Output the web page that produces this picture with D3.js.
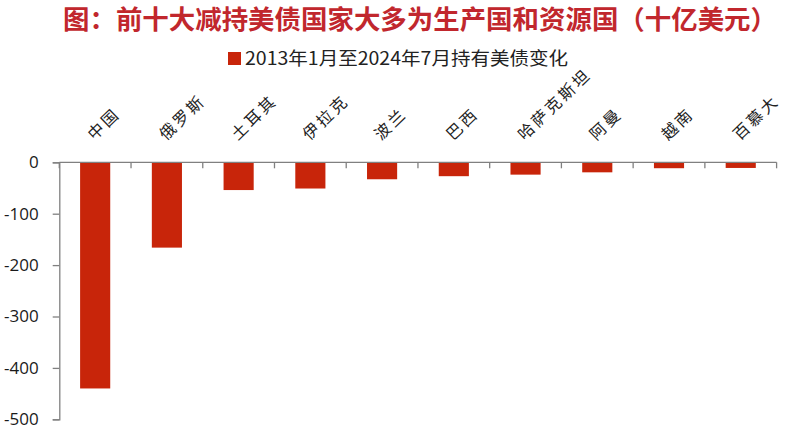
<!DOCTYPE html>
<html>
<head>
<meta charset="utf-8">
<script src="https://cdn.jsdelivr.net/npm/d3@7"></script>
<style>
  body { margin: 0; background: #fff; }
  svg { display: block; }
</style>
</head>
<body>
<div id="chart"></div>
<script>
// data
const countries = ['中国', '俄罗斯', '土耳其', '伊拉克', '波兰', '巴西', '哈萨克斯坦', '阿曼', '越南', '百慕大'];
const changes = [-440, -166, -54, -51, -33, -27, -24, -19.5, -11.5, -11];
const yTicks = [0, -100, -200, -300, -400, -500];

const titleText = '图：前十大减持美债国家大多为生产国和资源国（十亿美元）';
const legendText = '2013年1月至2024年7月持有美债变化';

const width = 800, height = 428;
const barColor = '#C8250A';
const axisColor = '#808080';
const cjk = '"Noto Sans CJK SC", "Noto Sans", sans-serif';

const svg = d3.select('#chart').append('svg')
    .attr('width', width)
    .attr('height', height)
    .attr('viewBox', [0, 0, width, height]);

// title
svg.append('text')
    .attr('x', 63)
    .attr('y', 29)
    .attr('textLength', 714)
    .attr('lengthAdjust', 'spacingAndGlyphs')
    .attr('font-family', cjk)
    .attr('font-weight', 700)
    .attr('font-size', 26)
    .attr('fill', '#C1272D')
    .text(titleText);

// legend
svg.append('rect')
    .attr('x', 228)
    .attr('y', 52)
    .attr('width', 13)
    .attr('height', 13)
    .attr('fill', barColor);

svg.append('text')
    .attr('x', 245)
    .attr('y', 65)
    .attr('textLength', 323)
    .attr('lengthAdjust', 'spacingAndGlyphs')
    .attr('font-family', cjk)
    .attr('font-size', 18)
    .attr('fill', '#222')
    .text(legendText);

// scales
const x = d3.scaleBand()
    .domain(countries)
    .range([59.3, 776.6])
    .paddingInner(0.58)
    .paddingOuter(0.29);

const xOuter = d3.scaleBand()
    .domain(countries)
    .range([59.3, 776.6]);

const y = d3.scaleLinear()
    .domain([-500, 0])
    .range([419.3, 162.3]);

// bars
svg.append('g')
    .selectAll('rect')
    .data(countries)
    .join('rect')
    .attr('x', d => x(d))
    .attr('y', y(0))
    .attr('width', x.bandwidth())
    .attr('height', (d, i) => y(changes[i]) - y(0))
    .attr('fill', barColor);

// y axis
const yAxis = d3.axisLeft(y)
    .tickValues(yTicks)
    .tickSize(6.6)
    .tickPadding(14)
    .tickFormat(d => d === 0 ? '0' : '-' + Math.abs(d));

svg.append('g')
    .attr('transform', `translate(59.3,0)`)
    .call(yAxis)
    .call(g => g.select('.domain').attr('stroke', axisColor).attr('stroke-width', 1.3))
    .call(g => g.selectAll('.tick line').attr('stroke', axisColor).attr('stroke-width', 1.3))
    .call(g => g.selectAll('.tick text')
        .attr('font-family', '"Open Sans", "Noto Sans", sans-serif')
        .attr('font-size', 17)
        .attr('fill', '#1a1a1a'));

// category axis along zero line, ticks at band boundaries
const bounds = countries.map(d => xOuter(d)).concat([xOuter.range()[1]]);

const xGroup = svg.append('g');
xGroup.append('line')
    .attr('x1', xOuter.range()[0])
    .attr('x2', xOuter.range()[1])
    .attr('y1', y(0))
    .attr('y2', y(0))
    .attr('stroke', axisColor)
    .attr('stroke-width', 1.3);

xGroup.selectAll('line.tick')
    .data(bounds)
    .join('line')
    .attr('class', 'tick')
    .attr('x1', d => d)
    .attr('x2', d => d)
    .attr('y1', y(0))
    .attr('y2', y(0) + 6)
    .attr('stroke', axisColor)
    .attr('stroke-width', 1.3);

// rotated category labels above the axis
svg.append('g')
    .selectAll('text')
    .data(countries)
    .join('text')
    .attr('transform', d => `translate(${xOuter(d) + xOuter.bandwidth() / 2 - 1},141) rotate(-44)`)
    .attr('font-family', cjk)
    .attr('font-size', 16)
    .attr('letter-spacing', 2.8)
    .attr('fill', '#222')
    .text(d => d);
</script>
</body>
</html>
